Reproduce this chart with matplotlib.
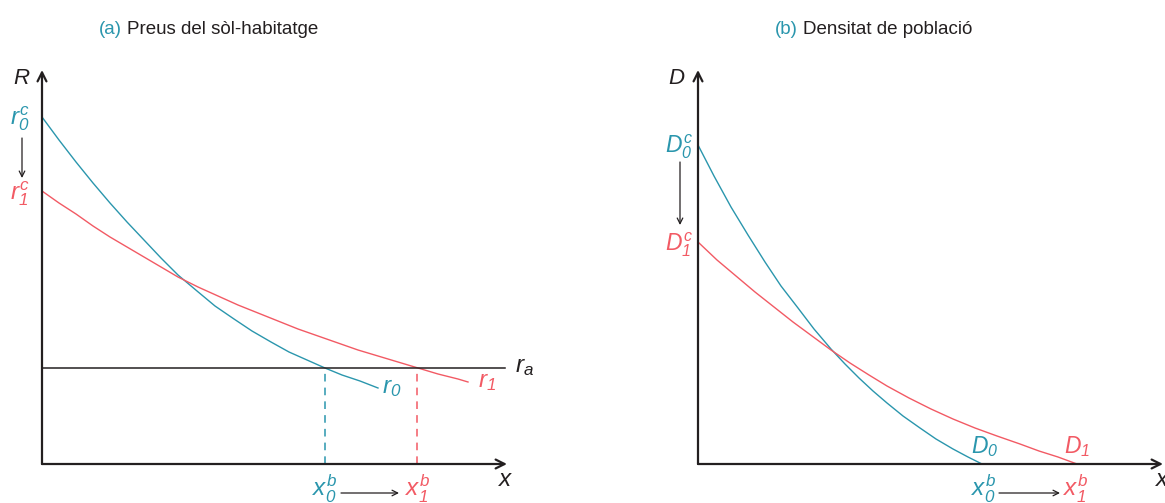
import matplotlib
matplotlib.use("Agg")
from matplotlib import pyplot as plt

plt.rcParams["font.family"] = ["Liberation Sans", "DejaVu Sans"]
plt.rcParams["mathtext.fontset"] = "custom"
plt.rcParams["mathtext.it"] = "Liberation Sans:italic"
plt.rcParams["mathtext.rm"] = "Liberation Sans:italic"
plt.rcParams["mathtext.default"] = "it"

TEAL = "#2a96ad"
RED = "#f25a64"
INK = "#231f20"

# (a) bid-rent curves
r0_x = [0, 17, 34, 51, 68, 85, 102, 119, 136, 155, 173, 192, 210, 229, 247, 265, 283, 300, 318, 336]
r0_y = [347, 324, 302, 281, 261, 242, 224, 206, 189, 173, 158, 145, 133, 122, 112, 104, 96, 89, 83, 76]
r1_x = [0, 17, 34, 51, 68, 85, 102, 119, 136, 156, 176, 196, 216, 236, 256, 276, 296, 316, 336, 356, 376, 396, 416, 426]
r1_y = [273, 261, 250, 238, 227, 217, 207, 197, 187, 177, 168, 159, 151, 143, 135, 128, 121, 114, 108, 102, 96, 90, 85, 82]
r_a = 96
xb_a = [283, 375]

# (b) density curves
d0_x = [0, 16, 33, 50, 67, 83, 100, 116, 133, 147, 161, 175, 189, 205, 222, 238, 255, 270, 284]
d0_y = [319, 288, 257, 229, 202, 178, 156, 135, 115, 100, 86, 73, 61, 48, 36, 25, 15, 7, 0]
d1_x = [0, 19, 38, 57, 76, 95, 114, 133, 152, 171, 189, 211, 233, 255, 277, 299, 322, 341, 360, 379]
d1_y = [222, 204, 188, 172, 157, 142, 128, 114, 101, 89, 78, 66, 55, 45, 36, 28, 20, 13, 7, 0]

W, H = 1165, 503
fig = plt.figure(figsize=(W / 100, H / 100), dpi=100)

def make_axes(left_px):
    ax = fig.add_axes([left_px / W, (H - 464) / H, 465 / W, 394 / H])
    ax.set_xlim(0, 465)
    ax.set_ylim(0, 394)
    ax.axis("off")
    arrow = dict(arrowstyle="->", lw=1.6, color=INK, shrinkA=0, shrinkB=0, mutation_scale=16)
    ax.annotate("", xy=(465, 0), xytext=(0, 0), arrowprops=arrow, annotation_clip=False)
    ax.annotate("", xy=(0, 394), xytext=(0, 0), arrowprops=arrow, annotation_clip=False)
    return ax

def label(ax, x, y, s, color, size=17.5):
    ax.text(x, y, s, color=color, fontsize=size, ha="center", va="center", clip_on=False)

def small_arrow(ax, p0, p1):
    ax.annotate("", xy=p1, xytext=p0,
                arrowprops=dict(arrowstyle="->", lw=0.9, color=INK, shrinkA=0, shrinkB=0, mutation_scale=10),
                annotation_clip=False)

# ---- panel (a)
ax1 = make_axes(42)
ax1.plot(r0_x, r0_y, color=TEAL, lw=1.0, clip_on=False)
ax1.plot(r1_x, r1_y, color=RED, lw=1.0, clip_on=False)
ax1.plot([0, 463], [r_a, r_a], color=INK, lw=1.1)
ax1.plot([xb_a[0], xb_a[0]], [0, r_a], color=TEAL, lw=1.1, ls=(0, (5, 4)))
ax1.plot([xb_a[1], xb_a[1]], [0, r_a], color=RED, lw=1.1, ls=(0, (5, 4)))

label(ax1, -20, 386, r"$R$", INK, 16)
label(ax1, -22, 345, r"$r_{0}^{c}$", TEAL)
small_arrow(ax1, (-20, 326), (-20, 286))
label(ax1, -22, 270, r"$r_{1}^{c}$", RED)
label(ax1, 350, 76, r"$r_{0}$", TEAL)
label(ax1, 445, 82, r"$r_{1}$", RED)
label(ax1, 482, 97, r"$r_{a}$", INK)
label(ax1, xb_a[0], -25, r"$x_{0}^{b}$", TEAL)
small_arrow(ax1, (299, -29), (357, -29))
label(ax1, xb_a[1] + 1, -25, r"$x_{1}^{b}$", RED)
label(ax1, 464, -16, r"$x$", INK)

# ---- panel (b)
ax2 = make_axes(698)
ax2.plot(d0_x, d0_y, color=TEAL, lw=1.0, clip_on=False)
ax2.plot(d1_x, d1_y, color=RED, lw=1.0, clip_on=False)

label(ax2, -21, 386, r"$D$", INK, 16)
label(ax2, -19, 317, r"$D_{0}^{c}$", TEAL, 16.5)
small_arrow(ax2, (-18, 302), (-18, 239))
label(ax2, -19, 219, r"$D_{1}^{c}$", RED, 16.5)
label(ax2, 287, 17, r"$D_{0}$", TEAL, 16.5)
label(ax2, 379, 17, r"$D_{1}$", RED, 16.5)
label(ax2, d0_x[-1] + 2, -25, r"$x_{0}^{b}$", TEAL)
small_arrow(ax2, (301, -29), (362, -29))
label(ax2, d1_x[-1] - 1, -25, r"$x_{1}^{b}$", RED)
label(ax2, 465, -16, r"$x$", INK)

# ---- titles
ty = 1 - 29 / H
fig.text(122 / W, ty, "(a)", color=TEAL, fontsize=13.5, ha="right", va="center")
fig.text(127 / W, ty, "Preus del sòl-habitatge", color=INK, fontsize=13.5, ha="left", va="center")
fig.text(798 / W, ty, "(b)", color=TEAL, fontsize=13.5, ha="right", va="center")
fig.text(803 / W, ty, "Densitat de població", color=INK, fontsize=13.5, ha="left", va="center")

fig.savefig("out.png", dpi=100)
